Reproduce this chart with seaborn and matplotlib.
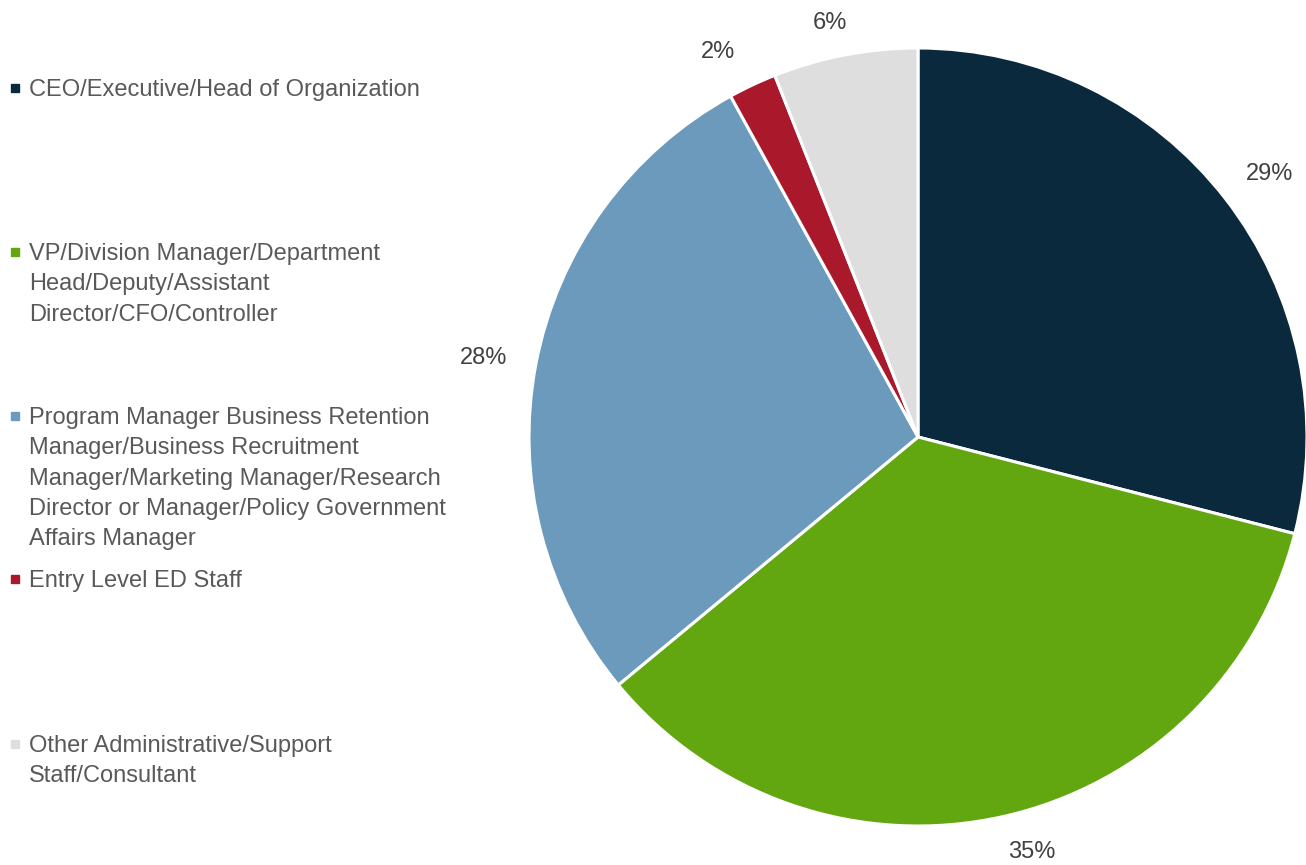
import matplotlib
matplotlib.use("Agg")
import matplotlib.pyplot as plt
from matplotlib.lines import Line2D
import numpy as np
import seaborn as sns

# Respondent job roles and their share of responses (%)
categories = [
    "CEO/Executive/Head of Organization",
    "VP/Division Manager/Department\nHead/Deputy/Assistant\nDirector/CFO/Controller",
    "Program Manager Business Retention\nManager/Business Recruitment\nManager/Marketing Manager/Research\nDirector or Manager/Policy Government\nAffairs Manager",
    "Entry Level ED Staff",
    "Other Administrative/Support\nStaff/Consultant",
]
shares = [29, 35, 28, 2, 6]
colors = ["#0B293D", "#62A70F", "#6C9ABD", "#AA182C", "#DEDEDE"]

sns.set_theme(style="white")
plt.rcParams["font.family"] = ["Liberation Sans", "DejaVu Sans"]

W, H, DPI = 1306, 865, 100
CX, CY, R = 918, H - 437, 389
fig = plt.figure(figsize=(W / DPI, H / DPI), dpi=DPI)
ax = fig.add_axes([0, 0, 1, 1])

palette = sns.color_palette(colors)
wedges, texts, autotexts = ax.pie(
    shares,
    colors=palette,
    startangle=90,
    counterclock=False,
    center=(CX, CY),
    radius=R,
    autopct="%d%%",
    pctdistance=1.12,
    wedgeprops=dict(edgecolor="white", linewidth=2.2),
    textprops=dict(fontsize=17, color="#404040"),
)

# Place each value label just outside its wedge (radial distance, angle nudge in degrees)
label_dist = [1.131, 1.103, 1.137, 1.119, 1.093]
label_turn = [-0.9, 2.8, 0.3, 2.1, 1.2]
for w, t, d, a in zip(wedges, autotexts, label_dist, label_turn):
    ang = np.deg2rad((w.theta1 + w.theta2) / 2 + a)
    t.set_position((CX + d * R * np.cos(ang), CY + d * R * np.sin(ang) - 1.5))

ax.set_xlim(0, W)
ax.set_ylim(0, H)
ax.set_aspect("equal")
ax.axis("off")

# One legend block per role; wrapped lines sit under the first line
tops = [79, 243, 407, 570, 735]
for label, color, top in zip(categories, colors, tops):
    lines = label.split("\n")
    handles = [Line2D([], [], marker="s", linestyle="", color=color, markersize=6)]
    handles += [Line2D([], [], linestyle="", marker="") for _ in lines[1:]]
    fig.legend(
        handles, lines,
        loc="upper left",
        bbox_to_anchor=(10 / W, 1 - top / H),
        frameon=False,
        borderpad=0,
        borderaxespad=0,
        handlelength=0.45,
        handletextpad=0.35,
        labelspacing=0.35,
        fontsize=17,
        labelcolor="#595959",
    )

fig.savefig("out.png", dpi=DPI)
